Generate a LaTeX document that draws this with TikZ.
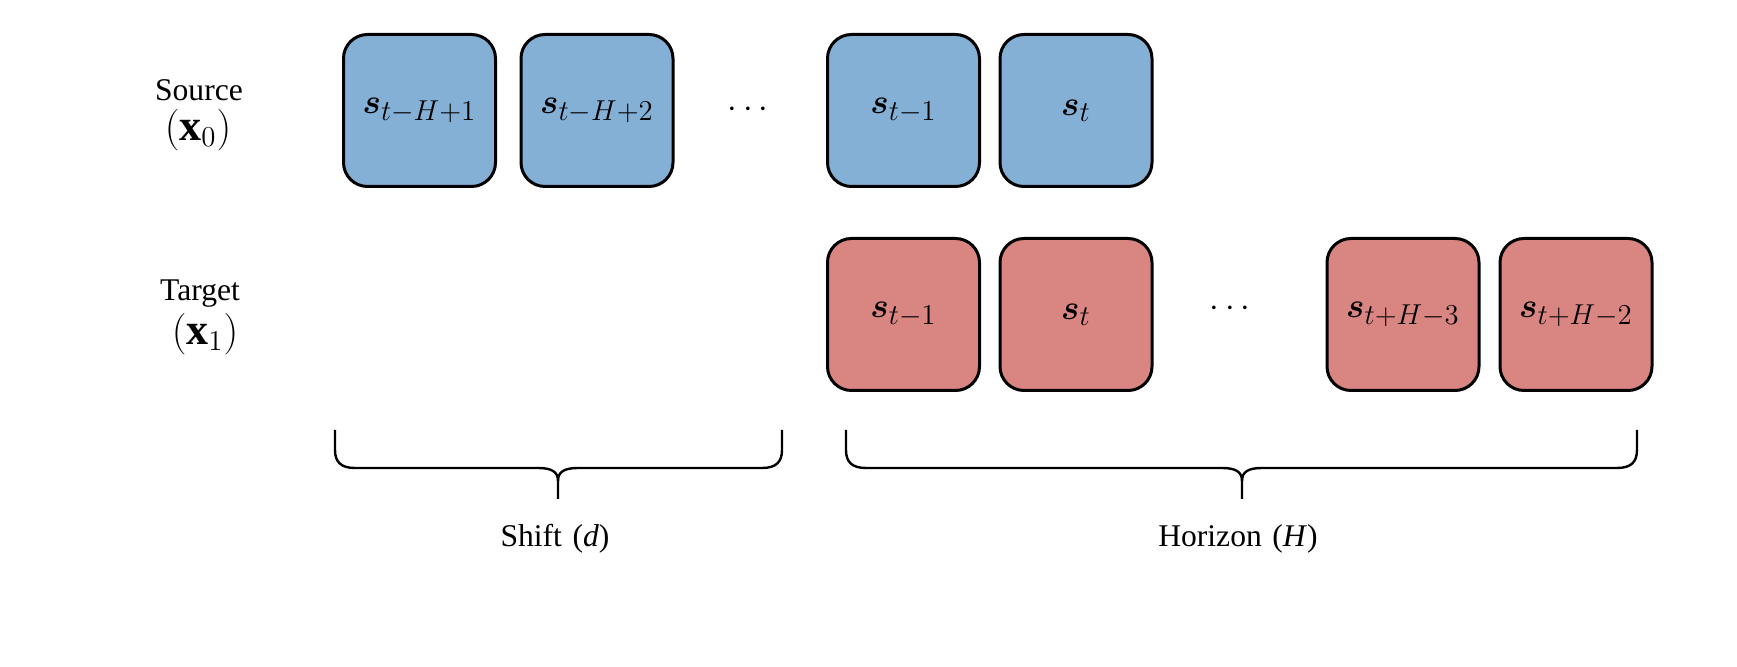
\documentclass[tikz,border=0pt]{standalone}
\usepackage{amsmath,amssymb,bm}
\usepackage{fontspec}
\setmainfont{Liberation Serif}
\definecolor{srcblue}{RGB}{133,176,214}
\definecolor{tgtred}{RGB}{217,134,131}
\newcommand{\cellm}[1]{\raisebox{-2pt}{$#1$}}
\begin{document}
\begin{tikzpicture}[x=0.5pt,y=-0.5pt,
  cell/.style={draw=black,line width=1.5pt,rounded corners=12pt,minimum width=76pt,minimum height=76pt,inner sep=0pt,font=\fontsize{19}{23}\selectfont},
  srccell/.style={cell,fill=srcblue},
  tgtcell/.style={cell,fill=tgtred},
  lbl/.style={inner sep=0pt,font=\fontsize{15.8}{19}\selectfont},
  mlbl/.style={inner sep=0pt,font=\fontsize{22}{26}\selectfont},
  dotsnode/.style={inner sep=0pt,font=\fontsize{19}{23}\selectfont},
  brace/.style={draw=black,line width=1.2pt}]
\useasboundingbox (0,0) rectangle (1737,667);
% labels
\node[lbl] (srcA) at (199,90) {Source};
\node[mlbl] (srcB) at (198,130) {$(\mathbf{x}_0)$};
\node[lbl] (tgtA) at (200,294) {Target};
\node[mlbl] (tgtB) at (205,334) {$(\mathbf{x}_1)$};
% source row
\node[srccell] (s1) at (419.5,110.5) {\cellm{\bm{s}_{t-H+1}}};
\node[srccell] (s2) at (597,110.5) {\cellm{\bm{s}_{t-H+2}}};
\node[dotsnode] (sd) at (751,110) {$\cdots$};
\node[srccell] (s3) at (903.5,110.5) {\cellm{\bm{s}_{t-1}}};
\node[srccell] (s4) at (1076,110.5) {\cellm{\bm{s}_{t}}};
% target row
\node[tgtcell] (t1) at (903.5,314.5) {\cellm{\bm{s}_{t-1}}};
\node[tgtcell] (t2) at (1076,314.5) {\cellm{\bm{s}_{t}}};
\node[dotsnode] (td) at (1233,309) {$\cdots$};
\node[tgtcell] (t3) at (1403,314.5) {\cellm{\bm{s}_{t+H-3}}};
\node[tgtcell] (t4) at (1576,314.5) {\cellm{\bm{s}_{t+H-2}}};
% braces
\draw[brace] (335,430) -- (335,450) .. controls (335,462) and (341,468) .. (355,468)
  -- (538,468) .. controls (552,468) and (558,472) .. (558,481) -- (558,499);
\draw[brace] (782,430) -- (782,450) .. controls (782,462) and (776,468) .. (762,468)
  -- (578,468) .. controls (564,468) and (558,472) .. (558,481);
\draw[brace] (846,430) -- (846,450) .. controls (846,462) and (852,468) .. (866,468)
  -- (1222,468) .. controls (1236,468) and (1242,472) .. (1242,481) -- (1242,499);
\draw[brace] (1637,430) -- (1637,450) .. controls (1637,462) and (1631,468) .. (1617,468)
  -- (1262,468) .. controls (1248,468) and (1242,472) .. (1242,481);
\node[lbl] (shift) at (555,539) {Shift\,\,(\textit{d})};
\node[lbl] (hor) at (1238,539) {Horizon\,\,(\textit{H})};
\end{tikzpicture}
\end{document}
